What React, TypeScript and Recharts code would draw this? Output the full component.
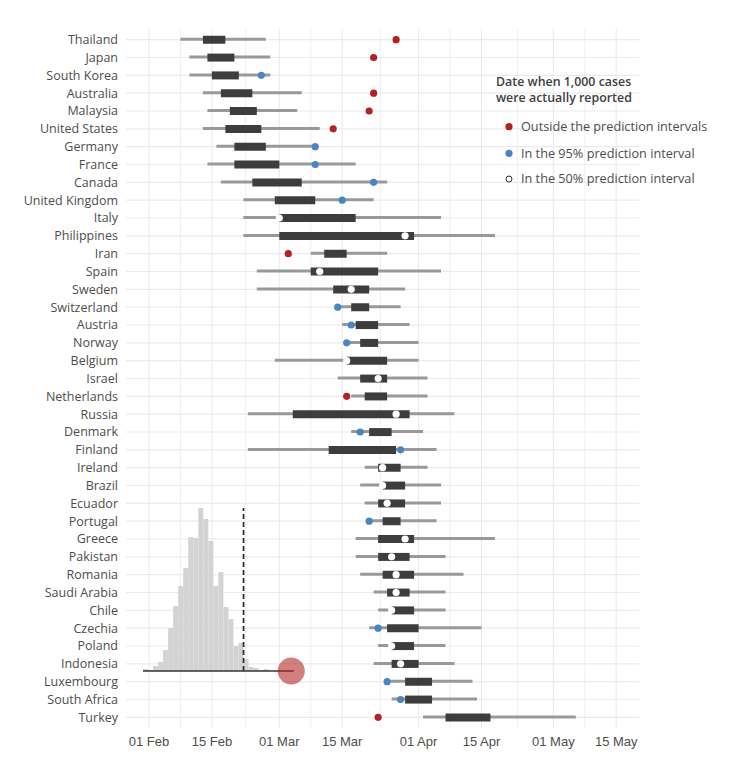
import React from 'react';
import {
  ComposedChart,
  BarChart,
  Bar,
  Scatter,
  XAxis,
  YAxis,
  CartesianGrid,
  ReferenceLine,
  ReferenceDot,
} from 'recharts';

// countries, top to bottom
const countries = [
  'Thailand', 'Japan', 'South Korea', 'Australia', 'Malaysia', 'United States',
  'Germany', 'France', 'Canada', 'United Kingdom', 'Italy', 'Philippines', 'Iran',
  'Spain', 'Sweden', 'Switzerland', 'Austria', 'Norway', 'Belgium', 'Israel',
  'Netherlands', 'Russia', 'Denmark', 'Finland', 'Ireland', 'Brazil', 'Ecuador',
  'Portugal', 'Greece', 'Pakistan', 'Romania', 'Saudi Arabia', 'Chile', 'Czechia',
  'Poland', 'Indonesia', 'Luxembourg', 'South Africa', 'Turkey',
];

// predicted date of 1,000 cases (2020, MM-DD): 95% and 50% intervals
const low95 = [
  '02-08', '02-10', '02-10', '02-13', '02-14', '02-13', '02-16', '02-14', '02-17', '02-22',
  '02-22', '02-22', '03-08', '02-25', '02-25', '03-14', '03-15', '03-16', '02-29', '03-14',
  '03-17', '02-23', '03-17', '02-23', '03-20', '03-19', '03-20', '03-21', '03-18', '03-18',
  '03-19', '03-22', '03-23', '03-21', '03-23', '03-22', '03-25', '03-26', '04-02',
];
const low50 = [
  '02-13', '02-14', '02-15', '02-17', '02-19', '02-18', '02-20', '02-20', '02-24', '02-29',
  '03-01', '03-01', '03-11', '03-08', '03-13', '03-17', '03-18', '03-19', '03-16', '03-19',
  '03-20', '03-04', '03-21', '03-12', '03-23', '03-24', '03-23', '03-24', '03-23', '03-23',
  '03-24', '03-25', '03-26', '03-25', '03-26', '03-26', '03-29', '03-29', '04-07',
];
const high50 = [
  '02-18', '02-20', '02-21', '02-24', '02-25', '02-26', '02-27', '03-01', '03-06', '03-09',
  '03-18', '03-31', '03-16', '03-23', '03-21', '03-21', '03-23', '03-23', '03-25', '03-25',
  '03-25', '03-30', '03-26', '03-27', '03-28', '03-29', '03-29', '03-28', '03-31', '03-30',
  '03-31', '03-30', '03-31', '04-01', '03-31', '04-01', '04-04', '04-04', '04-17',
];
const high95 = [
  '02-27', '02-28', '02-28', '03-06', '03-05', '03-10', '03-09', '03-18', '03-25', '03-22',
  '04-06', '04-18', '03-25', '04-06', '03-29', '03-28', '03-30', '04-01', '04-01', '04-03',
  '04-03', '04-09', '04-02', '04-05', '04-03', '04-06', '04-06', '04-05', '04-18', '04-07',
  '04-11', '04-07', '04-07', '04-15', '04-07', '04-09', '04-13', '04-14', '05-06',
];
// date when 1,000 cases were actually reported
const reported = [
  '03-27', '03-22', '02-26', '03-22', '03-21', '03-13', '03-09', '03-09', '03-22', '03-15',
  '03-01', '03-29', '03-03', '03-10', '03-17', '03-14', '03-17', '03-16', '03-16', '03-23',
  '03-16', '03-27', '03-19', '03-28', '03-24', '03-24', '03-25', '03-21', '03-29', '03-26',
  '03-27', '03-27', '03-26', '03-23', '03-26', '03-28', '03-25', '03-28', '03-23',
];

const axisBreaks = ['02-01', '02-15', '03-01', '03-15', '04-01', '04-15', '05-01', '05-15'];

// inset histogram
const histBins = [
  1, 2, 3, 4, 5, 6, 7, 8, 9, 10, 11, 12, 13, 14, 15,
  16, 17, 18, 19, 20, 21, 22, 23, 24, 25, 26, 27, 28, 29, 30,
];
const histCounts = [
  2, 1, 5, 9, 21, 43, 65, 85, 103, 134, 133, 163, 152, 130, 85,
  99, 64, 52, 25, 28, 12, 4, 3, 1, 2, 0, 0, 0, 0, 0,
];

const DAY = 86400000;
const toTime = (md: string) => {
  const [m, d] = md.split('-').map(Number);
  return Date.UTC(2020, m - 1, d);
};
const FEB1 = toTime('02-01');
const X_DOMAIN = [FEB1 - 5.12 * DAY, FEB1 + 109.13 * DAY];
const MONTHS = ['Jan', 'Feb', 'Mar', 'Apr', 'May', 'Jun'];
const fmtDate = (t: number) => {
  const d = new Date(t);
  return `${String(d.getUTCDate()).padStart(2, '0')} ${MONTHS[d.getUTCMonth()]}`;
};

const RED = '#b22222';
const BLUE = '#4a85c3';
const DARK = '#3d3d3d';
const GREY = '#999999';
const GRID = '#ebebeb';
const LABEL = 'Open Sans, sans-serif';

const rows = countries.map((country, i) => {
  const r = {
    country,
    lo95: toTime(low95[i]),
    lo50: toTime(low50[i]),
    hi50: toTime(high50[i]),
    hi95: toTime(high95[i]),
    actual: toTime(reported[i]),
  };
  let status = 'outside';
  if (r.actual >= r.lo50 && r.actual <= r.hi50) status = 'in50';
  else if (r.actual >= r.lo95 && r.actual <= r.hi95) status = 'in95';
  return { ...r, status };
});

const histData = histBins.map((bin, i) => ({ bin, count: histCounts[i] }));

const majorTicks = axisBreaks.map(toTime);
const minorTicks = majorTicks.slice(1).map((t, i) => (t + majorTicks[i]) / 2);

const Y_PAD = 1.75;

const dotColor = (s: string) => (s === 'outside' ? RED : s === 'in95' ? BLUE : '#ffffff');

const ActualDot = (props: any) => {
  const { cx, cy, payload } = props;
  if (cx == null || cy == null) return null;
  return <circle cx={cx} cy={cy} r={3.6} fill={dotColor(payload.status)} />;
};

const xCoords = (values: number[]) => ({ xAxis, offset }: any) => {
  const s = xAxis && xAxis.scale;
  if (typeof s === 'function') return values.map((v) => s(v));
  const k = offset.width / (X_DOMAIN[1] - X_DOMAIN[0]);
  return values.map((v) => offset.left + (v - X_DOMAIN[0]) * k);
};

const yCoords = ({ yAxis, offset }: any) => {
  const s = yAxis && yAxis.scale;
  if (typeof s === 'function' && typeof s.bandwidth === 'function') {
    return countries.map((c) => s(c) + s.bandwidth() / 2);
  }
  const band = (offset.height - 2 * Y_PAD) / countries.length;
  return countries.map((_, i) => offset.top + Y_PAD + band * (i + 0.5));
};

function Legend() {
  const items = [
    { label: 'Outside the prediction intervals', fill: RED, stroke: 'none', cy: 126.7 },
    { label: 'In the 95% prediction interval', fill: BLUE, stroke: 'none', cy: 153.3 },
    { label: 'In the 50% prediction interval', fill: '#ffffff', stroke: '#333333', cy: 179 },
  ];
  return (
    <svg width={735} height={770} style={{ position: 'absolute', left: 0, top: 0, pointerEvents: 'none' }}>
      <text x={496} y={86} fontFamily={LABEL} fontSize={12.4} fontWeight={600} fill="#404040">
        Date when 1,000 cases
      </text>
      <text x={496} y={102} fontFamily={LABEL} fontSize={12.4} fontWeight={600} fill="#404040">
        were actually reported
      </text>
      {items.map((it) => (
        <g key={it.label}>
          <circle cx={509} cy={it.cy} r={it.stroke === 'none' ? 3.6 : 3} fill={it.fill} stroke={it.stroke} strokeWidth={1} />
          <text x={521} y={it.cy + 4.4} fontFamily={LABEL} fontSize={12.7} fill="#4d4d4d">
            {it.label}
          </text>
        </g>
      ))}
    </svg>
  );
}

export default function App() {
  return (
    <div style={{ position: 'absolute', left: 0, top: 0, width: 735, height: 770, background: '#fff' }}>
      <ComposedChart
        width={735}
        height={770}
        data={rows}
        layout="vertical"
        margin={{ top: 29, right: 95.7, bottom: 12, left: 0 }}
      >
        <CartesianGrid
          stroke={GRID}
          strokeWidth={0.8}
          horizontal={false}
          verticalCoordinatesGenerator={xCoords(minorTicks)}
        />
        <CartesianGrid
          stroke={GRID}
          strokeWidth={1.1}
          verticalCoordinatesGenerator={xCoords(majorTicks)}
          horizontalCoordinatesGenerator={yCoords}
        />
        <XAxis
          type="number"
          domain={X_DOMAIN}
          allowDataOverflow
          ticks={majorTicks}
          tickFormatter={fmtDate}
          axisLine={false}
          tickLine={false}
          tickMargin={3}
          height={30}
          interval={0}
          tick={{ fill: '#4d4d4d', fontSize: 13, fontFamily: 'Liberation Sans, Arial, sans-serif' }}
        />
        <YAxis
          type="category"
          dataKey="country"
          width={126}
          axisLine={false}
          tickLine={false}
          interval={0}
          padding={{ top: Y_PAD, bottom: Y_PAD }}
          tick={{ fill: '#4d4d4d', fontSize: 12.5, fontFamily: LABEL }}
        />
        <YAxis
          yAxisId="inner"
          type="category"
          dataKey="country"
          hide
          padding={{ top: Y_PAD, bottom: Y_PAD }}
        />
        <Bar
          dataKey={(r: any) => [r.lo95, r.hi95]}
          barSize={3}
          fill={GREY}
          isAnimationActive={false}
        />
        <Bar
          yAxisId="inner"
          dataKey={(r: any) => [r.lo50, r.hi50]}
          barSize={8}
          fill={DARK}
          isAnimationActive={false}
        />
        <Scatter dataKey="actual" shape={ActualDot} isAnimationActive={false} />
      </ComposedChart>

      <div style={{ position: 'absolute', left: 142.7, top: 508 }}>
        <BarChart
          width={150.8 + 16}
          height={163 + 16}
          data={histData}
          margin={{ top: 0, right: 16, bottom: 16, left: 0 }}
          barCategoryGap={0}
        >
          <XAxis dataKey="bin" type="category" hide />
          <YAxis hide domain={[0, 163]} allowDataOverflow />
          <Bar dataKey="count" fill="#d3d3d3" isAnimationActive={false} />
          <ReferenceDot x={30} y={0} r={13.5} fill={RED} fillOpacity={0.58} stroke="none" />
          <ReferenceLine x={20} position="end" stroke="#2b2b2b" strokeWidth={1.7} strokeDasharray="5 3" />
          <ReferenceLine y={0} stroke="#333333" strokeWidth={1.5} />
        </BarChart>
      </div>

      <Legend />
    </div>
  );
}
